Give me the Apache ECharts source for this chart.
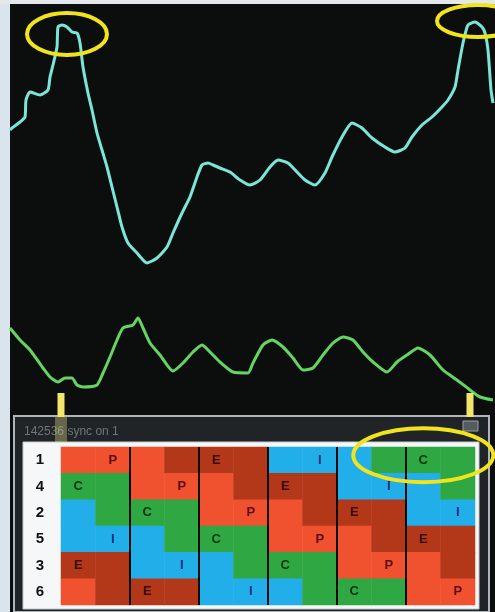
<!DOCTYPE html>
<html>
<head>
<meta charset="utf-8">
<script src="https://cdn.jsdelivr.net/npm/echarts@6/dist/echarts.min.js"></script>
<style>
  html, body { margin: 0; padding: 0; background: #0c0e0d; }
  #chart { width: 495px; height: 612px; }
</style>
</head>
<body>
<div id="chart"></div>
<script>
// upper trace (cyan) - sample index / level
const cyanSamples = [0, 4, 20, 30, 32, 40, 60, 76, 80, 86, 94, 96, 104, 114, 124, 134, 140, 146, 156, 164,
  174, 184, 194, 204, 214, 224, 236, 254, 274, 294, 314, 326, 344, 360, 374, 384, 396, 406, 420, 440,
  460, 480, 500, 520, 536, 556, 574, 590, 610, 630, 644, 664, 684, 704, 724, 750, 770, 790, 804, 824,
  844, 864, 876, 890, 896, 906, 916, 930, 944, 950, 956, 962, 966];
const cyanLevels = [145, 147, 153, 158, 175, 183, 180, 185, 198, 210, 228, 248, 250, 248, 243, 242, 232, 208, 182, 165,
  142, 125, 108, 88, 68, 48, 32, 22, 12, 17, 28, 42, 62, 78, 98, 110, 112, 110, 107, 103,
  95, 90, 95, 108, 115, 112, 103, 95, 90, 102, 118, 138, 152, 147, 137, 128, 123, 127, 138, 150,
  158, 168, 175, 188, 205, 232, 250, 253, 248, 242, 225, 185, 172];

// lower trace (green)
const greenSamples = [0, 20, 40, 66, 80, 96, 110, 124, 134, 146, 174, 186, 200, 214, 226, 246, 256, 266, 280, 300,
  326, 346, 366, 384, 400, 420, 446, 476, 486, 506, 524, 546, 566, 586, 606, 626, 646, 666, 686, 706,
  726, 754, 774, 794, 816, 840, 866, 894, 920, 940, 966];
const greenLevels = [82, 70, 60, 42, 33, 28, 32, 32, 25, 23, 25, 37, 53, 70, 82, 85, 92, 82, 67, 55,
  39, 47, 58, 65, 58, 48, 38, 37, 47, 65, 70, 63, 52, 40, 42, 55, 67, 73, 70, 58,
  48, 38, 48, 55, 62, 55, 40, 30, 20, 13, 10];

// sync marks on the lower trace
const syncSamples = [102, 920];

// sequence table: rows top to bottom, 6 blocks x 2 halves
const rowLabels = ['1', '4', '2', '5', '3', '6'];
const stateLetters = ['P', 'C', 'I', 'E'];
const stateGrid = [
  [0, 0, 0, 3, 3, 3, 2, 2, 2, 1, 1, 1],
  [1, 1, 0, 0, 0, 3, 3, 3, 2, 2, 2, 1],
  [2, 1, 1, 1, 0, 0, 0, 3, 3, 3, 2, 2],
  [2, 2, 2, 1, 1, 1, 0, 0, 0, 3, 3, 3],
  [3, 3, 2, 2, 2, 1, 1, 1, 0, 0, 0, 3],
  [0, 3, 3, 3, 2, 2, 2, 1, 1, 1, 0, 0]
];

const stateColors = ['#f0512f', '#2fa843', '#22aee8', '#b3381a'];
const letterColors = ['#5a0b14', '#0a3410', '#0a2c7a', '#360c05'];

const zip = (xs, ys) => xs.map((x, i) => [x, ys[i]]);

const cells = [];
stateGrid.forEach((row, r) => {
  row.forEach((s, c) => cells.push([c, r, s]));
});

// P and I sit in the right half of a full block, C and E in the left half
function letterFor(c, r, s) {
  const row = stateGrid[r];
  const left = c - (c % 2);
  if (row[left] !== s || row[left + 1] !== s) return '';
  const wantRight = s === 0 || s === 2;
  return (c % 2 === 1) === wantRight ? stateLetters[s] : '';
}

const chart = echarts.init(document.getElementById('chart'));

chart.setOption({
  backgroundColor: '#0c0e0d',
  animation: false,
  grid: [
    { left: 10, right: 0, top: 5, height: 270 },
    { left: 10, right: 0, top: 300, height: 110 },
    { left: 61, top: 447, width: 414, height: 158 }
  ],
  xAxis: [
    { type: 'value', gridIndex: 0, min: 0, max: 970, show: false },
    { type: 'value', gridIndex: 1, min: 0, max: 970, show: false },
    { type: 'category', gridIndex: 2, data: stateGrid[0].map((d, i) => i), show: false },
    {
      type: 'value', gridIndex: 2, min: 0, max: 6, interval: 1, z: 10,
      axisLine: { show: false }, axisTick: { show: false }, axisLabel: { show: false },
      splitLine: { show: true, showMinLine: false, showMaxLine: false, lineStyle: { color: '#0a0a0a', width: 2 } }
    }
  ],
  yAxis: [
    { type: 'value', gridIndex: 0, min: 0, max: 270, show: false },
    { type: 'value', gridIndex: 1, min: 0, max: 110, show: false },
    {
      type: 'category', gridIndex: 2, data: rowLabels, inverse: true,
      axisLine: { show: false }, axisTick: { show: false }, splitLine: { show: false },
      axisLabel: { margin: 17, color: '#111', fontSize: 15, fontWeight: 'bold', fontFamily: 'Liberation Sans' }
    }
  ],
  visualMap: {
    type: 'piecewise', show: false, seriesIndex: 2, dimension: 2,
    pieces: stateColors.map((color, i) => ({ value: i, color }))
  },
  series: [
    {
      name: 'upper', type: 'line', xAxisIndex: 0, yAxisIndex: 0,
      data: zip(cyanSamples, cyanLevels), showSymbol: false, smooth: 0.2,
      lineStyle: { color: '#7ae6da', width: 3 }
    },
    {
      name: 'lower', type: 'line', xAxisIndex: 1, yAxisIndex: 1,
      data: zip(greenSamples, greenLevels), showSymbol: false, smooth: 0.2,
      lineStyle: { color: '#66d462', width: 3 }
    },
    {
      name: 'sequence', type: 'heatmap', xAxisIndex: 2, yAxisIndex: 2,
      data: cells,
      emphasis: { disabled: true },
      label: {
        show: true,
        formatter: (p) => {
          const [c, r, s] = p.value;
          const letter = letterFor(c, r, s);
          return letter ? `{s${s}|${letter}}` : '';
        },
        rich: Object.fromEntries(letterColors.map((color, i) => [
          's' + i, { color, fontSize: 13, fontWeight: 'bold', fontFamily: 'Liberation Sans' }
        ]))
      }
    }
  ]
});

// annotations placed through the axes
const px = (series, v) => chart.convertToPixel({ seriesIndex: series }, v);
const ringStyle = { fill: 'none', stroke: '#f2e41c', lineWidth: 4 };

const leftPeak = px(0, [114, 241]);
const rightPeak = px(0, [936, 254]);
const tableSpot = px(2, [10, 0]);

const frame = [
  { type: 'rect', z: -5, shape: { x: 0, y: 0, width: 10, height: 612 }, style: { fill: '#dae4ec' } },
  { type: 'rect', z: -5, shape: { x: 0, y: 0, width: 495, height: 4 }, style: { fill: '#e4e8eb' } },
  { type: 'rect', z: -5, shape: { x: 14, y: 416, width: 475, height: 196 }, style: { fill: '#202427', stroke: '#aeb5ba', lineWidth: 2 } },
  { type: 'rect', z: -4, shape: { x: 23, y: 442, width: 456, height: 167 }, style: { fill: '#f6f7f8', stroke: '#c4c9cd', lineWidth: 1 } },
  { type: 'text', z: -4, style: { x: 24, y: 432, text: '142536 sync on 1', fill: '#6f767a', font: '12px "Liberation Sans"', verticalAlign: 'middle' } },
  { type: 'rect', z: -4, shape: { x: 463, y: 421, width: 15, height: 10 }, style: { fill: '#555c60', stroke: '#9aa1a5', lineWidth: 1 } }
];

const marks = syncSamples.map((s) => {
  const top = px(1, [s, 17]);
  const bottom = px(1, [s, -7]);
  return { type: 'rect', z: 50, shape: { x: top[0] - 3.5, y: top[1], width: 7, height: bottom[1] - top[1] }, style: { fill: '#f3e66a' } };
});
const glowTop = px(1, [syncSamples[0], -7]);
marks.push({ type: 'rect', z: 49, shape: { x: glowTop[0] - 6, y: glowTop[1], width: 12, height: 26 }, style: { fill: 'rgba(235,225,140,0.35)' } });

const rings = [
  { type: 'ellipse', z: 60, shape: { cx: leftPeak[0], cy: leftPeak[1], rx: 40, ry: 21 }, style: ringStyle },
  { type: 'ellipse', z: 60, shape: { cx: rightPeak[0], cy: rightPeak[1], rx: 41, ry: 16 }, style: ringStyle },
  { type: 'ellipse', z: 60, shape: { cx: tableSpot[0], cy: tableSpot[1] - 5, rx: 70, ry: 27 }, style: ringStyle }
];

chart.setOption({ graphic: frame.concat(marks, rings) });
</script>
</body>
</html>
